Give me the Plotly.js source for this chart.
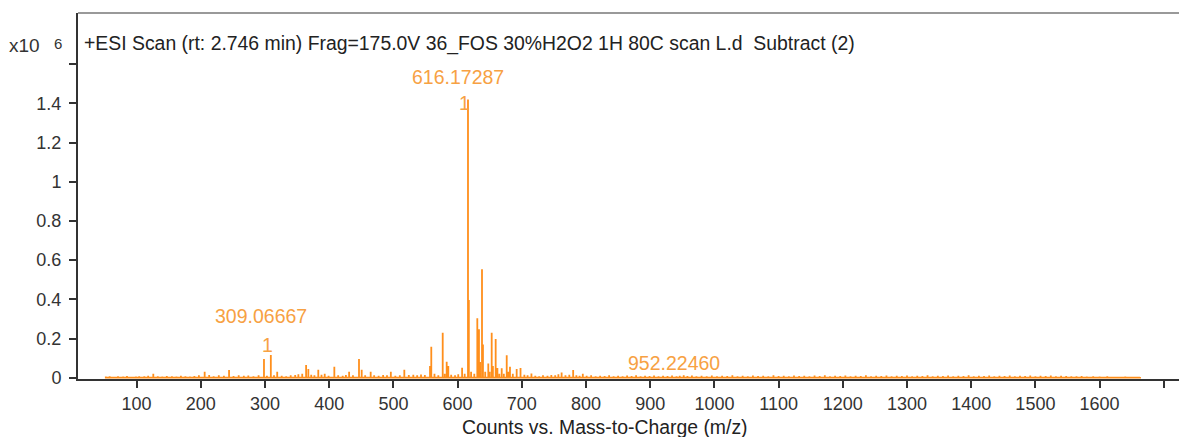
<!DOCTYPE html>
<html>
<head>
<meta charset="utf-8">
<script src="https://cdn.plot.ly/plotly-3.0.1.min.js"></script>
<style>html,body{margin:0;padding:0;background:#fff;}#chart{width:1179px;height:437px;}</style>
</head>
<body>
<div id="chart"></div>
<script>
// m/z of each centroid (stick) in the spectrum
const mzValues = [
  52, 58, 65, 71, 79, 85, 92, 99, 104, 112, 118, 126, 133, 140, 147, 155, 162, 169, 176, 183,
  190, 197, 206, 213, 220, 228, 236, 244, 251, 259, 267, 274, 282, 290, 298.4, 303, 309.06667, 314, 319, 326,
  333, 340, 347, 352, 358, 364, 367.5, 372, 377, 383, 388, 393, 399, 408, 414, 421, 426, 431, 437, 446.4,
  450.6, 456, 464.6, 470, 477, 484, 490, 496, 503, 510, 517, 524, 531, 537, 543, 549, 557, 559, 564, 570,
  576.8, 580, 583, 585.5, 590, 596, 601, 607, 611, 616.17287, 617.5, 621, 626, 630.7, 633.3, 635, 638, 639.5, 643, 647.8,
  650, 653.1, 655, 659.3, 662, 665, 668.7, 672, 676.5, 679, 681.6, 686, 692, 698, 704, 709, 715, 721, 727, 733,
  740, 746, 752, 757, 762, 768, 774, 780, 785, 790, 795, 801, 808, 815, 822, 829, 836, 843, 850, 857,
  864, 871, 878, 885, 892, 899, 906, 913, 920, 927, 934, 941, 946, 952.2246, 958, 965, 972, 980, 988, 996,
  1004, 1012, 1020, 1028, 1036, 1044, 1052, 1060, 1068, 1076, 1084, 1092, 1100, 1108, 1116, 1124, 1132, 1140, 1148, 1156,
  1164, 1172, 1180, 1188, 1196, 1204, 1212, 1220, 1228, 1236, 1244, 1252, 1260, 1268, 1276, 1284, 1292, 1300, 1308, 1316,
  1324, 1332, 1340, 1348, 1356, 1364, 1372, 1380, 1388, 1396, 1404, 1412, 1420, 1428, 1436, 1444, 1452, 1460, 1468, 1476,
  1484, 1492, 1500, 1508, 1516, 1524, 1532, 1540, 1548, 1556, 1564, 1572, 1580, 1590, 1600, 1612, 1625, 1640, 1655, 1663
];
// counts (x10^6) of each stick
const counts = [
  0.006, 0.008, 0.005, 0.007, 0.006, 0.009, 0.005, 0.006, 0.008, 0.007, 0.010, 0.020, 0.008, 0.006, 0.009, 0.007, 0.006, 0.010, 0.008, 0.006,
  0.009, 0.012, 0.030, 0.014, 0.008, 0.012, 0.010, 0.039, 0.009, 0.012, 0.010, 0.011, 0.008, 0.012, 0.095, 0.010, 0.116, 0.012, 0.030, 0.010,
  0.008, 0.012, 0.014, 0.018, 0.020, 0.065, 0.045, 0.015, 0.012, 0.040, 0.015, 0.020, 0.010, 0.056, 0.012, 0.010, 0.014, 0.030, 0.012, 0.095,
  0.040, 0.012, 0.030, 0.012, 0.010, 0.014, 0.012, 0.030, 0.010, 0.012, 0.040, 0.014, 0.015, 0.012, 0.016, 0.014, 0.060, 0.158, 0.020, 0.012,
  0.230, 0.020, 0.082, 0.060, 0.015, 0.012, 0.018, 0.051, 0.020, 1.420, 0.396, 0.030, 0.020, 0.303, 0.247, 0.080, 0.553, 0.170, 0.030, 0.073,
  0.030, 0.230, 0.060, 0.197, 0.050, 0.020, 0.048, 0.020, 0.114, 0.030, 0.056, 0.020, 0.045, 0.050, 0.015, 0.012, 0.022, 0.010, 0.008, 0.012,
  0.010, 0.014, 0.012, 0.018, 0.027, 0.012, 0.015, 0.039, 0.012, 0.010, 0.020, 0.010, 0.012, 0.008, 0.010, 0.009, 0.012, 0.008, 0.010, 0.008,
  0.011, 0.009, 0.012, 0.008, 0.010, 0.009, 0.011, 0.008, 0.010, 0.009, 0.011, 0.008, 0.010, 0.012, 0.009, 0.011, 0.008, 0.010, 0.007, 0.011,
  0.008, 0.010, 0.009, 0.012, 0.008, 0.010, 0.007, 0.011, 0.009, 0.010, 0.008, 0.012, 0.009, 0.010, 0.008, 0.011, 0.009, 0.010, 0.007, 0.011,
  0.009, 0.012, 0.008, 0.010, 0.009, 0.011, 0.008, 0.010, 0.009, 0.012, 0.008, 0.010, 0.009, 0.011, 0.008, 0.010, 0.009, 0.011, 0.008, 0.010,
  0.009, 0.012, 0.008, 0.010, 0.009, 0.011, 0.008, 0.010, 0.009, 0.012, 0.008, 0.010, 0.009, 0.011, 0.008, 0.010, 0.009, 0.011, 0.008, 0.010,
  0.009, 0.011, 0.008, 0.010, 0.009, 0.011, 0.008, 0.010, 0.009, 0.008, 0.007, 0.009, 0.006, 0.008, 0.006, 0.007, 0.005, 0.006, 0.005, 0.004
];
// labelled peaks
const labelMz = [616.17287, 309.06667, 952.2246];
const labelText = ["616.17287", "309.06667", "952.22460"];
const labelY = [1.534, 0.315, 0.075];
const chargeMz = [616.17287, 309.06667];
const chargeText = ["1", "1"];
const chargeY = [1.40, 0.167];

const xTickVals = [100,200,300,400,500,600,700,800,900,1000,1100,1200,1300,1400,1500,1600,1700];
const xTickText = ["100","200","300","400","500","600","700","800","900","1000","1100","1200","1300","1400","1500","1600",""];
const yTickVals = [0,0.2,0.4,0.6,0.8,1,1.2,1.4,1.6];
const yTickText = ["0","0.2","0.4","0.6","0.8","1","1.2","1.4",""];

const titleText = "+ESI Scan (rt: 2.746 min) Frag=175.0V 36_FOS 30%H2O2 1H 80C scan L.d&nbsp; Subtract (2)";
const xTitle = "Counts vs. Mass-to-Charge (m/z)";

// build stick profile
const sx = [], sy = [];
for (let i = 0; i < mzValues.length; i++) {
  sx.push(mzValues[i], mzValues[i], mzValues[i]);
  sy.push(0, counts[i], 0);
}

const FONT = "Liberation Sans, Arial, sans-serif";
const stickColor = "#FF8F1C";
const labelColor = "#F7A143";

const annotations = [];
for (let i = 0; i < labelMz.length; i++) {
  annotations.push({x: labelMz[i], y: labelY[i], xref: "x", yref: "y", text: labelText[i], showarrow: false,
    xanchor: "center", yanchor: "middle", xshift: -10, font: {family: FONT, size: 19.5, color: labelColor}});
}
for (let i = 0; i < chargeMz.length; i++) {
  annotations.push({x: chargeMz[i], y: chargeY[i], xref: "x", yref: "y", text: chargeText[i], showarrow: false,
    xanchor: "center", yanchor: "middle", xshift: -3, font: {family: FONT, size: 19.5, color: labelColor}});
}
annotations.push({x: 0, y: 1, xref: "paper", yref: "paper", text: titleText, showarrow: false,
  xanchor: "left", yanchor: "middle", xshift: 4, yshift: -30, font: {family: FONT, size: 19.4, color: "#222"}});
annotations.push({x: 0, y: 1, xref: "paper", yref: "paper", text: "x10", showarrow: false,
  xanchor: "right", yanchor: "middle", xshift: -36, yshift: -32, font: {family: FONT, size: 19, color: "#333"}});
annotations.push({x: 0, y: 1, xref: "paper", yref: "paper", text: "6", showarrow: false,
  xanchor: "center", yanchor: "middle", xshift: -20, yshift: -30, font: {family: FONT, size: 15, color: "#333"}});
annotations.push({x: 0.479, y: 0, xref: "paper", yref: "paper", text: xTitle, showarrow: false,
  xanchor: "center", yanchor: "middle", yshift: -48, font: {family: FONT, size: 19.4, color: "#222"}});

const layout = {
  width: 1179, height: 437,
  margin: {l: 78, r: 0, t: 13, b: 58, pad: 0},
  paper_bgcolor: "#fff", plot_bgcolor: "#fff",
  showlegend: false,
  font: {family: FONT, size: 18, color: "#333"},
  xaxis: {
    range: [8.7, 1723.7], showgrid: false, zeroline: false,
    showline: true, linecolor: "#333", linewidth: 2,
    ticks: "outside", ticklen: 7, tickwidth: 2, tickcolor: "#333",
    tickmode: "array", tickvals: xTickVals, ticktext: xTickText,
    tickfont: {family: FONT, size: 18, color: "#333"}
  },
  yaxis: {
    range: [-0.0066, 1.861], showgrid: false, zeroline: false,
    showline: true, linecolor: "#333", linewidth: 2,
    ticks: "outside", ticklen: 7, tickwidth: 2, tickcolor: "#333",
    tickmode: "array", tickvals: yTickVals, ticktext: yTickText,
    ticklabelstandoff: 4,
    tickfont: {family: FONT, size: 18, color: "#333"}
  },
  shapes: [{type: "line", xref: "paper", yref: "paper", x0: 0, x1: 1, y0: 1, y1: 1,
    line: {color: "#777", width: 1.5}}],
  annotations: annotations
};

Plotly.newPlot("chart", [{
  type: "scatter", mode: "lines", x: sx, y: sy,
  line: {color: stickColor, width: 1.8}, hoverinfo: "skip", cliponaxis: true
}], layout, {staticPlot: true, displayModeBar: false});
</script>
</body>
</html>
